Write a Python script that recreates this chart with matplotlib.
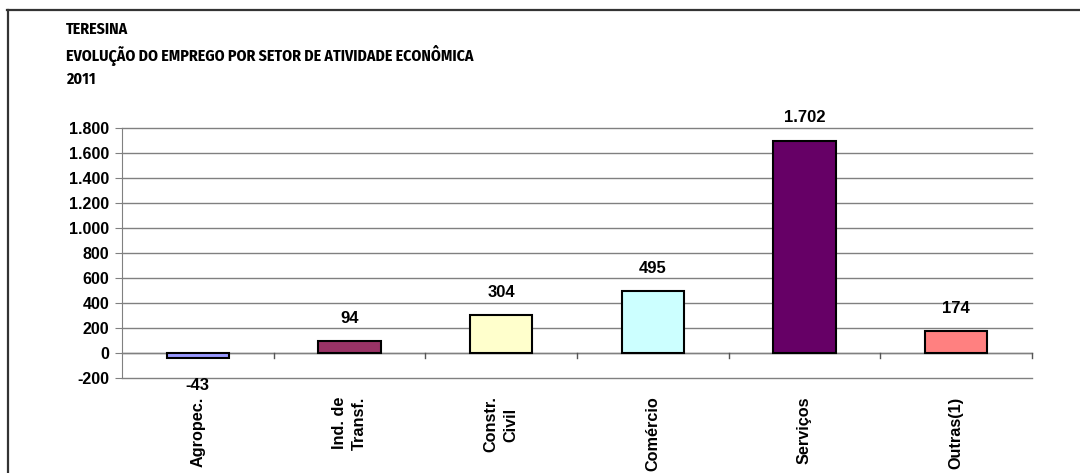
import matplotlib
matplotlib.use("Agg")
import matplotlib.pyplot as plt
from matplotlib.lines import Line2D
from matplotlib.ticker import FuncFormatter

categories = ["Agropec.", "Ind. de\nTransf.", "Constr.\nCivil", "Comércio", "Serviços", "Outras(1)"]
values = [-43, 94, 304, 495, 1702, 174]
value_labels = ["-43", "94", "304", "495", "1.702", "174"]
colors = ["#9999FF", "#993366", "#FFFFCC", "#CCFFFF", "#660066", "#FF8080"]
yticks = [-200, 0, 200, 400, 600, 800, 1000, 1200, 1400, 1600, 1800]
title_lines = ["TERESINA", "EVOLUÇÃO DO EMPREGO POR SETOR DE ATIVIDADE ECONÔMICA", "2011"]

plt.rcParams['font.family'] = ['Liberation Sans', 'DejaVu Sans']
title_family = ['Fira Sans Condensed', 'Liberation Sans', 'DejaVu Sans']

W, H = 1080, 473
fig = plt.figure(figsize=(W / 100, H / 100), dpi=100)
fig.patch.set_facecolor("white")

# figure border (top and left)
fig.add_artist(Line2D([7 / W, 1.0], [1 - 10.5 / H, 1 - 10.5 / H], color="#333333", lw=1.6, transform=fig.transFigure))
fig.add_artist(Line2D([7.5 / W, 7.5 / W], [0, 1 - 10.5 / H], color="#333333", lw=1.6, transform=fig.transFigure))

# titles
for t, yy in zip(title_lines, [29, 55, 79]):
    fig.text(66 / W, 1 - yy / H, t, fontsize=11.4, fontweight="bold", ha="left", va="center",
             family=title_family)

ax = fig.add_axes([122 / W, 1 - 377.7 / H, (1032 - 122) / W, (377.7 - 128.3) / H])
x = list(range(len(categories)))
ax.bar(x, values, width=0.41, color=colors, edgecolor="black", linewidth=1.5, zorder=3)

ax.set_xlim(-0.5, len(categories) - 0.5)
ax.set_ylim(-200, 1800)
ax.set_yticks(yticks)
ax.yaxis.set_major_formatter(FuncFormatter(lambda v, p: f"{int(v):,}".replace(",", ".")))
ax.grid(axis="y", color="#808080", linewidth=1, zorder=0)
for gl in ax.get_ygridlines():
    gl.set_clip_on(False)
for s in ["top", "right", "bottom"]:
    ax.spines[s].set_visible(False)
ax.spines["left"].set_color("#808080")
ax.tick_params(axis="y", length=5, color="#808080", labelsize=11.5, pad=4)
for lab in ax.get_yticklabels():
    lab.set_fontweight("bold")

# category axis at zero with ticks between categories
ax.axhline(0, color="#808080", linewidth=1, zorder=2)
for b in [i + 0.5 for i in range(len(categories))]:
    ax.plot([b, b], [0, -40], color="#555555", lw=1, zorder=2, clip_on=False)
ax.set_xticks(x)
ax.set_xticklabels(categories, rotation=90, fontsize=11.7, fontweight="bold", ha="center", va="top",
                   multialignment="center", linespacing=1.45)
ax.tick_params(axis="x", length=0, pad=13.5)

for xi, v, lab in zip(x, values, value_labels):
    if v >= 0:
        ax.annotate(lab, (xi, v), xytext=(0, 11), textcoords="offset points", ha="center", va="bottom",
                    fontsize=12, fontweight="bold")
    else:
        ax.annotate(lab, (xi, v), xytext=(0, -14), textcoords="offset points", ha="center", va="top",
                    fontsize=12, fontweight="bold")

fig.savefig("out.png", dpi=100, facecolor="white")
